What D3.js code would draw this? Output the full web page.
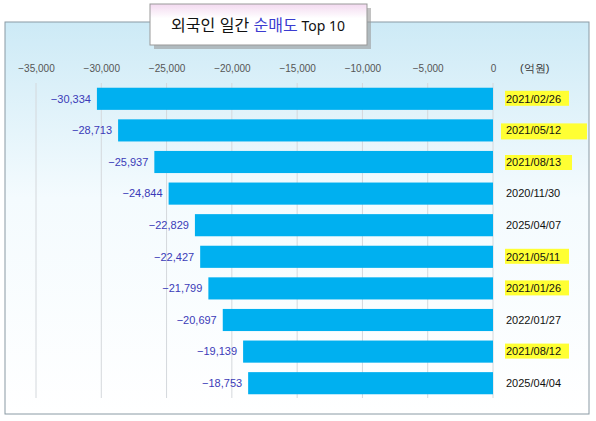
<!DOCTYPE html>
<html lang="ko">
<head>
<meta charset="UTF-8">
<script src="https://cdn.jsdelivr.net/npm/d3@7"></script>
<style>body{margin:0;background:#fff}</style>
</head>
<body>
<svg></svg>
<script>
  const dates = ["2021/02/26","2021/05/12","2021/08/13","2020/11/30","2025/04/07","2021/05/11","2021/01/26","2022/01/27","2021/08/12","2025/04/04"];
  const values = [-30334,-28713,-25937,-24844,-22829,-22427,-21799,-20697,-19139,-18753];
  const highlighted = [true,true,true,false,false,true,true,false,true,false];
  const ticks = [-35000,-30000,-25000,-20000,-15000,-10000,-5000,0];

  const W = 596, H = 421;
  const svg = d3.select("svg").attr("width", W).attr("height", H)
    .style("font-family", "'Liberation Sans', Arial, sans-serif");

  const defs = svg.append("defs");
  const bg = defs.append("linearGradient").attr("id","bg").attr("x1",0).attr("y1",0).attr("x2",0).attr("y2",1);
  bg.append("stop").attr("offset","0%").attr("stop-color","#cdeaf6");
  bg.append("stop").attr("offset","45%").attr("stop-color","#f4fbfe");
  bg.append("stop").attr("offset","100%").attr("stop-color","#ffffff");
  const tg = defs.append("linearGradient").attr("id","tg").attr("x1",0).attr("y1",0).attr("x2",0).attr("y2",1);
  tg.append("stop").attr("offset","0%").attr("stop-color","#f3d9f0");
  tg.append("stop").attr("offset","35%").attr("stop-color","#ffffff");

  // panel
  svg.append("rect").attr("x",5).attr("y",22).attr("width",584).attr("height",392)
    .attr("fill","url(#bg)").attr("stroke","#8a9aa4");

  const x = d3.scaleLinear().domain([-35000,0]).range([36,493]);
  const y = d3.scaleBand().domain(dates).range([83,399]).paddingInner(0.3).paddingOuter(0.15);

  // grid
  svg.append("g").selectAll("line").data(ticks).join("line")
    .attr("x1",d=>x(d)).attr("x2",d=>x(d)).attr("y1",83).attr("y2",398)
    .attr("stroke","#d4d8dc");

  const axis = svg.append("g").attr("transform","translate(0,68)")
    .call(d3.axisTop(x).tickValues(ticks).tickSize(0).tickFormat(d3.format(",")));
  axis.select(".domain").remove();
  axis.selectAll("text").attr("dy","0.35em").attr("y",0).attr("font-size",10).attr("fill","#555");
  svg.append("text").attr("x",520).attr("y",68).attr("dy","0.35em").attr("font-size",11).attr("fill","#333").text("(억원)");

  // bars
  svg.append("g").selectAll("rect").data(values).join("rect")
    .attr("x",d=>x(d)).attr("y",(d,i)=>y(dates[i]))
    .attr("width",d=>x(0)-x(d)).attr("height",y.bandwidth()).attr("fill","#00b0f0");

  svg.append("g").selectAll("text").data(values).join("text")
    .attr("x",d=>x(d)-6).attr("y",(d,i)=>y(dates[i])+y.bandwidth()/2).attr("dy","0.35em")
    .attr("text-anchor","end").attr("font-size",11).attr("fill","#3b3bb8")
    .text(d=>d3.format(",")(d));

  // date labels
  const dl = svg.append("g").selectAll("g").data(dates).join("g")
    .attr("transform",d=>`translate(506,${y(d)+y.bandwidth()/2})`);
  dl.filter((d,i)=>highlighted[i]).append("rect")
    .attr("x",(d,i)=>i===1?-5:-1)
    .attr("y",(d,i)=>i===1?-7:(i===2?-7:-8))
    .attr("width",(d,i)=>i===1?86:(i===2?67:64))
    .attr("height",(d,i)=>i===1?16:(i===2?15:15))
    .attr("fill","#ffff33");
  dl.append("text").attr("dy","0.35em").attr("font-size",11).attr("fill","#111").text(d=>d);

  // title box
  const tb = svg.append("g");
  tb.append("rect").attr("x",154).attr("y",8).attr("width",217).attr("height",41).attr("fill","#9a9a9a").attr("opacity",0.6);
  tb.append("rect").attr("x",150).attr("y",4).attr("width",217).attr("height",41).attr("fill","url(#tg)").attr("stroke","#999");
  const tt = tb.append("text").attr("x",258).attr("y",25).attr("dy","0.35em").attr("text-anchor","middle")
    .attr("font-family","'Noto Sans CJK KR', sans-serif").attr("font-size",16).attr("fill","#111");
  tt.append("tspan").text("외국인 일간 ");
  tt.append("tspan").attr("fill","#3b3bd0").text("순매도");
  tt.append("tspan").attr("font-size",14).attr("font-family","'Noto Sans', sans-serif").text(" Top 10");
</script>
</body>
</html>
